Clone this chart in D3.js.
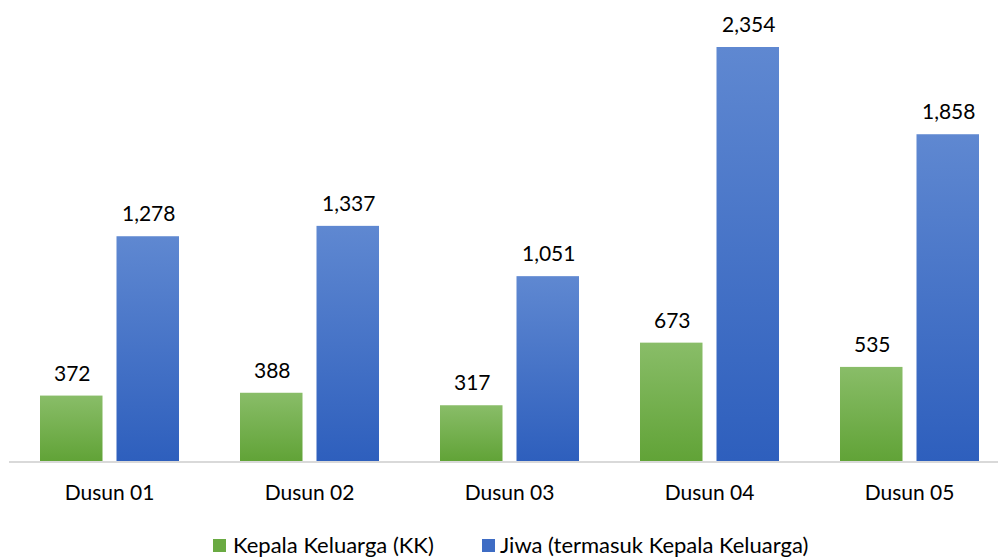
<!DOCTYPE html>
<html><head><meta charset="utf-8">
<script src="https://cdn.jsdelivr.net/npm/d3@7"></script>
<style>body{margin:0;background:#fff}svg{display:block}text{font-family:Lato,"Open Sans",sans-serif;fill:#000}</style>
</head><body>
<svg id="c" width="998" height="559"></svg>
<script>
const categories = ["Dusun 01","Dusun 02","Dusun 03","Dusun 04","Dusun 05"];
const seriesNames = ["Kepala Keluarga (KK)","Jiwa (termasuk Kepala Keluarga)"];
const kkValues = [372,388,317,673,535];
const jiwaValues = [1278,1337,1051,2354,1858];

const svg = d3.select("#c");
const W = 998, H = 559;
const base = 461;
const y = d3.scaleLinear().domain([0,2500]).range([base, base - 2500*0.17587]);
const x0 = d3.scaleBand().domain(categories).range([9.5, 1009.5]).paddingInner(0).paddingOuter(0);
const x1 = d3.scaleBand().domain(seriesNames).range([30.5, 169.5]).paddingInner(0.183);

const defs = svg.append("defs");
const grads = [
  {id:"gGreen", top:"#89bd68", bot:"#61a337"},
  {id:"gBlue", top:"#5f88d1", bot:"#2e5fbd"}
];
grads.forEach(g=>{
  const lg = defs.append("linearGradient").attr("id",g.id).attr("x1",0).attr("y1",0).attr("x2",0).attr("y2",1);
  lg.append("stop").attr("offset","0%").attr("stop-color",g.top);
  lg.append("stop").attr("offset","100%").attr("stop-color",g.bot);
});
const fills = ["url(#gGreen)","url(#gBlue)"];
const legendFills = ["#6aaa42","#3e6cc4"];

const data = categories.map((c,i)=>({cat:c, vals:[kkValues[i], jiwaValues[i]]}));
const fmt = d3.format(",");

const groups = svg.selectAll("g.grp").data(data).join("g").attr("class","grp")
  .attr("transform", d=>`translate(${x0(d.cat)},0)`);
groups.selectAll("rect").data(d=>d.vals.map((v,j)=>({v, s:seriesNames[j], j})))
  .join("rect")
  .attr("x", d=>x1(d.s)).attr("width", x1.bandwidth())
  .attr("y", d=>y(d.v)).attr("height", d=>base - y(d.v))
  .attr("fill", d=>fills[d.j]);
groups.selectAll("text.val").data(d=>d.vals.map((v,j)=>({v, s:seriesNames[j], j})))
  .join("text").attr("class","val")
  .attr("x", d=>x1(d.s)+x1.bandwidth()/2+1).attr("y", d=>y(d.v)-15)
  .attr("text-anchor","middle").attr("font-size",21).text(d=>fmt(d.v));

// axis
const xAxis = d3.axisBottom(x0).tickSize(0).tickPadding(24);
const ax = svg.append("g").attr("transform",`translate(0,${base})`).call(xAxis);
ax.select(".domain").remove();
ax.selectAll("text").attr("font-size",21).attr("fill","#000").attr("font-family","Lato,'Open Sans',sans-serif");
svg.append("line").attr("x1",9).attr("x2",W).attr("y1",base+1).attr("y2",base+1)
  .attr("stroke","#d9d9d9").attr("stroke-width",2);

// legend
const leg = [{x:213, tx:233},{x:482, tx:500}];
seriesNames.forEach((n,i)=>{
  svg.append("rect").attr("x",leg[i].x).attr("y",539).attr("width",13).attr("height",13).attr("fill",legendFills[i]);
  svg.append("text").attr("x",leg[i].tx).attr("y",553).attr("font-size",22).text(n);
});
</script>
</body></html>
